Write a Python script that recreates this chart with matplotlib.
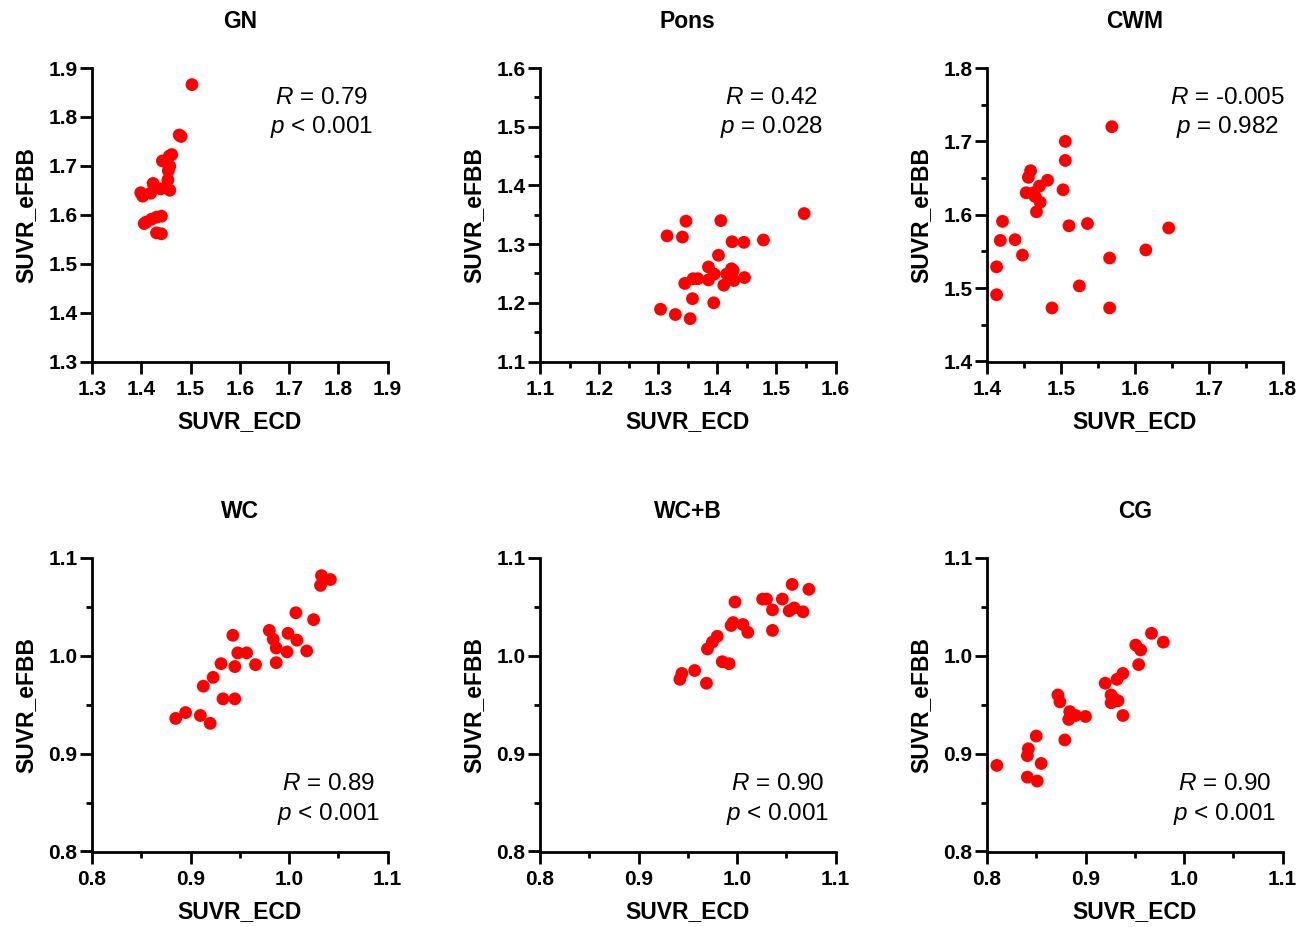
"""
SUVR eFBB vs SUVR ECD scatter panels
"""

import matplotlib
matplotlib.use("Agg")
import matplotlib.pyplot as plt
from matplotlib.ticker import MultipleLocator, FormatStrFormatter


# PARAMETERS

plt.rcParams['font.family'] = ['Liberation Sans', 'DejaVu Sans']
plt.rcParams['font.weight'] = 'bold'
plt.rcParams['mathtext.fontset'] = 'custom'
plt.rcParams['mathtext.rm'] = 'Liberation Sans:normal'
plt.rcParams['mathtext.it'] = 'Liberation Sans:italic:normal'
plt.rcParams['xtick.labelsize'] = 15
plt.rcParams['ytick.labelsize'] = 15

RED = '#ff0000'

# DATA

gn_x = [1.503, 1.477, 1.481, 1.462, 1.457, 1.443, 1.458, 1.455, 1.454, 1.424, 1.440,
        1.458, 1.419, 1.399, 1.403, 1.441, 1.431, 1.421, 1.410, 1.406, 1.431, 1.441]
gn_y = [1.866, 1.763, 1.760, 1.723, 1.720, 1.710, 1.699, 1.690, 1.671, 1.664, 1.653,
        1.650, 1.644, 1.645, 1.638, 1.597, 1.595, 1.591, 1.585, 1.582, 1.563, 1.561]

pons_x = [1.547, 1.347, 1.406, 1.315, 1.341, 1.425, 1.445, 1.478, 1.402, 1.385, 1.424,
          1.427, 1.395, 1.416, 1.359, 1.367, 1.385, 1.446, 1.428, 1.345, 1.411, 1.358,
          1.394, 1.304, 1.329, 1.354]
pons_y = [1.352, 1.339, 1.340, 1.314, 1.312, 1.304, 1.303, 1.307, 1.281, 1.261, 1.258,
          1.255, 1.249, 1.249, 1.241, 1.241, 1.239, 1.243, 1.238, 1.233, 1.230, 1.207,
          1.200, 1.189, 1.180, 1.173]

cwm_x = [1.569, 1.506, 1.506, 1.459, 1.456, 1.482, 1.471, 1.503, 1.453, 1.463, 1.465,
         1.472, 1.467, 1.421, 1.511, 1.536, 1.646, 1.418, 1.438, 1.615, 1.448, 1.566,
         1.413, 1.525, 1.413, 1.488, 1.566]
cwm_y = [1.720, 1.700, 1.674, 1.660, 1.651, 1.647, 1.639, 1.634, 1.630, 1.630, 1.625,
         1.617, 1.604, 1.591, 1.585, 1.588, 1.582, 1.565, 1.566, 1.552, 1.545, 1.541,
         1.529, 1.503, 1.491, 1.473, 1.473]

wc_x = [1.033, 1.042, 1.032, 1.007, 1.025, 0.943, 0.980, 0.999, 0.984, 1.008, 0.987,
        0.948, 0.957, 0.998, 1.018, 0.931, 0.945, 0.966, 0.987, 0.923, 0.913, 0.933,
        0.945, 0.895, 0.885, 0.910, 0.920]
wc_y = [1.082, 1.078, 1.072, 1.044, 1.037, 1.021, 1.026, 1.023, 1.017, 1.016, 1.008,
        1.003, 1.003, 1.004, 1.005, 0.992, 0.989, 0.991, 0.993, 0.978, 0.969, 0.956,
        0.956, 0.942, 0.936, 0.939, 0.931]

wcb_x = [1.056, 1.073, 0.998, 1.026, 1.030, 1.046, 1.036, 1.053, 1.058, 1.067, 0.996,
         0.994, 1.006, 1.011, 1.036, 0.980, 0.975, 0.970, 0.985, 0.992, 0.957, 0.944,
         0.942, 0.969]
wcb_y = [1.073, 1.068, 1.055, 1.058, 1.058, 1.058, 1.047, 1.046, 1.049, 1.045, 1.034,
         1.031, 1.032, 1.024, 1.026, 1.020, 1.014, 1.007, 0.994, 0.992, 0.985, 0.982,
         0.976, 0.972]

cg_x = [0.967, 0.979, 0.951, 0.956, 0.954, 0.938, 0.932, 0.920, 0.872, 0.874, 0.926,
        0.929, 0.933, 0.926, 0.884, 0.890, 0.883, 0.900, 0.938, 0.850, 0.879, 0.842,
        0.841, 0.855, 0.810, 0.841, 0.851]
cg_y = [1.023, 1.014, 1.011, 1.006, 0.991, 0.982, 0.976, 0.972, 0.960, 0.953, 0.960,
        0.956, 0.954, 0.952, 0.943, 0.939, 0.935, 0.938, 0.939, 0.918, 0.914, 0.905,
        0.898, 0.890, 0.888, 0.876, 0.872]

titles = ["GN", "Pons", "CWM", "WC", "WC+B", "CG"]
r_texts = ["0.79", "0.42", "-0.005", "0.89", "0.90", "0.90"]
p_texts = ["< 0.001", "= 0.028", "= 0.982", "< 0.001", "< 0.001", "< 0.001"]
limits = [(1.3, 1.9), (1.1, 1.6), (1.4, 1.8), (0.8, 1.1), (0.8, 1.1), (0.8, 1.1)]
minor = [False, True, True, True, True, True]
xs = [gn_x, pons_x, cwm_x, wc_x, wcb_x, cg_x]
ys = [gn_y, pons_y, cwm_y, wc_y, wcb_y, cg_y]

# annotation placement (axes fraction)
text_x = [0.777, 0.783, 0.813, 0.80, 0.803, 0.803]
text_top = [True, True, True, False, False, False]


# PROGRAM

fig = plt.figure(figsize=(13.09, 9.27), dpi=100)

lefts = [92, 540, 987]
tops = [68, 558]
W, H = 1309, 927

for i in range(6):
    row, col = divmod(i, 3)
    left = lefts[col] / W
    bottom = 1 - (tops[row] + 293.5) / H
    ax = fig.add_axes([left, bottom, 295.5 / W, 293.5 / H])

    ax.scatter(xs[i], ys[i], s=85, color=RED, edgecolors='none', zorder=3, clip_on=False)

    lo, hi = limits[i]
    ax.set_xlim(lo, hi)
    ax.set_ylim(lo, hi)
    ax.xaxis.set_major_locator(MultipleLocator(0.1))
    ax.yaxis.set_major_locator(MultipleLocator(0.1))
    if minor[i]:
        ax.xaxis.set_minor_locator(MultipleLocator(0.05))
        ax.yaxis.set_minor_locator(MultipleLocator(0.05))
    ax.xaxis.set_major_formatter(FormatStrFormatter('%.1f'))
    ax.yaxis.set_major_formatter(FormatStrFormatter('%.1f'))

    for side in ['top', 'right']:
        ax.spines[side].set_visible(False)
    for side in ['left', 'bottom']:
        ax.spines[side].set_linewidth(2.0)

    ax.tick_params(which='major', length=8.5, width=2.0)
    ax.tick_params(which='minor', length=4, width=2.0)
    ax.tick_params(axis='x', which='major', pad=5)
    ax.tick_params(axis='y', which='major', pad=2)

    ax.set_xlabel("SUVR_ECD", fontsize=16.5, fontweight='bold', labelpad=8)
    ax.set_ylabel("SUVR_eFBB", fontsize=16.5, fontweight='bold', labelpad=8)
    ax.set_title(titles[i], fontsize=16.5, fontweight='bold', pad=29)

    if text_top[i]:
        y1, y2 = 0.898, 0.800
    else:
        y1, y2 = 0.231, 0.129
    ax.text(text_x[i], y1, r"$\it{R}$ = " + r_texts[i], transform=ax.transAxes,
            ha='center', va='center', fontsize=17.5, fontweight='normal')
    ax.text(text_x[i], y2, r"$\it{p}$ " + p_texts[i], transform=ax.transAxes,
            ha='center', va='center', fontsize=17.5, fontweight='normal')

plt.savefig("out.png", dpi=100)
